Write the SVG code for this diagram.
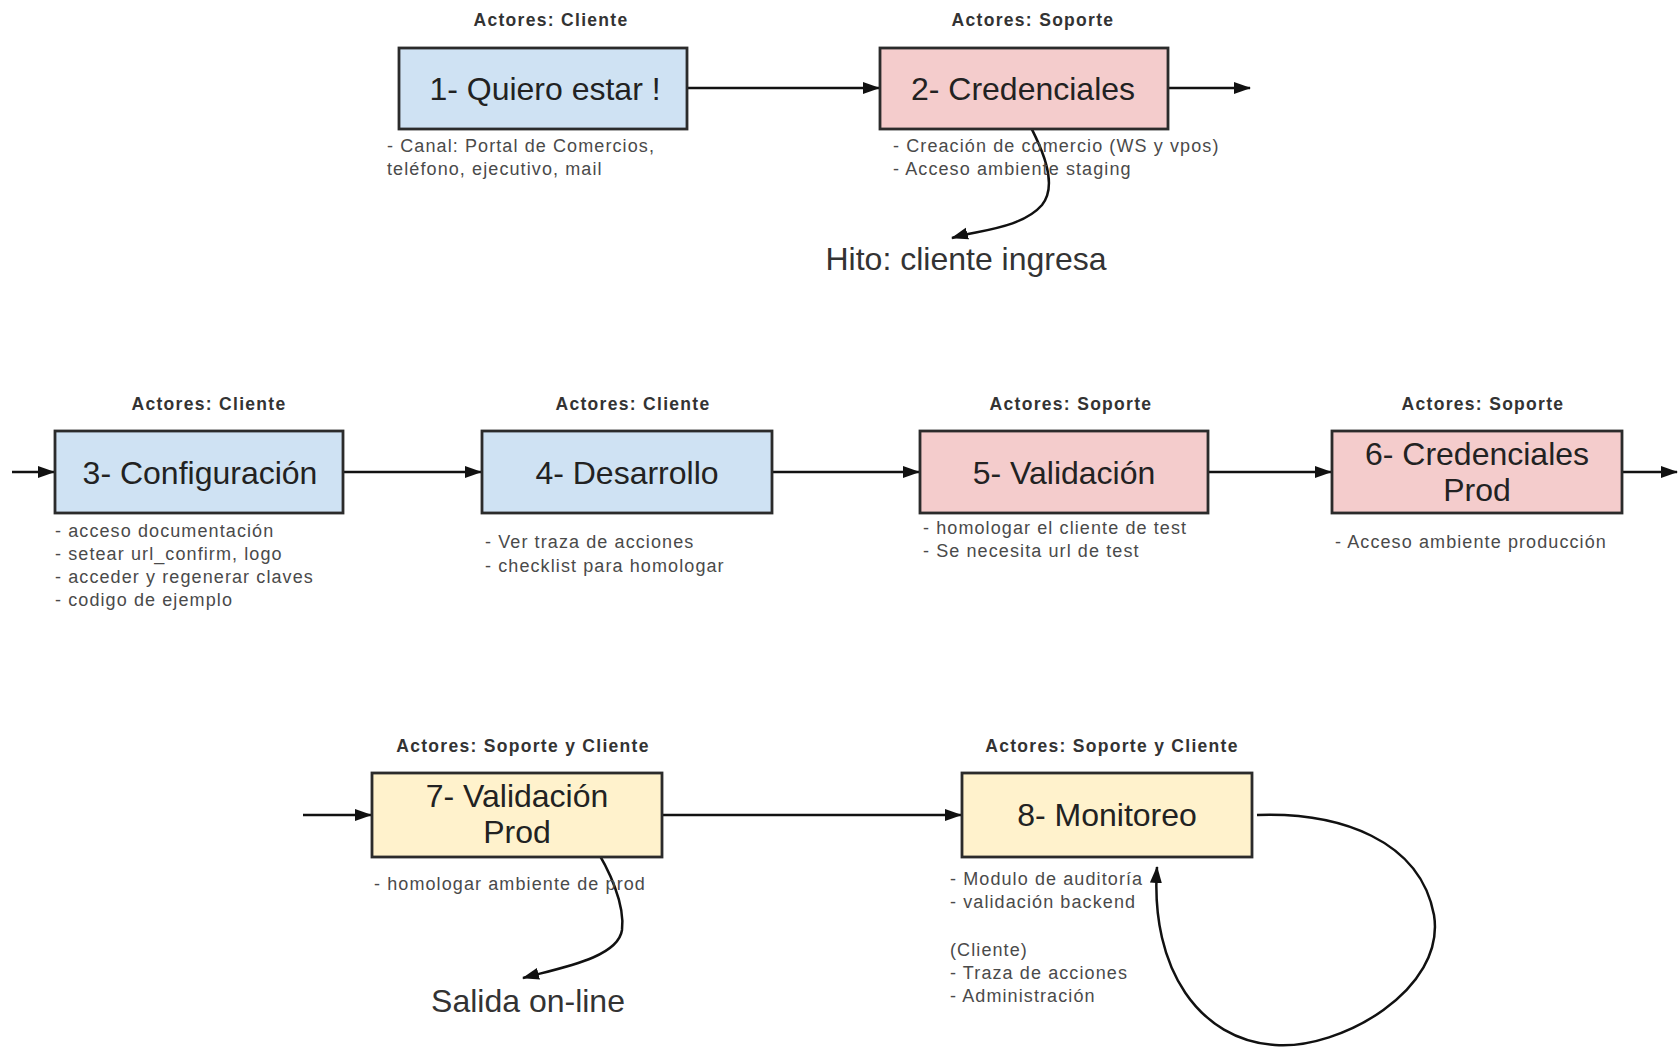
<svg xmlns="http://www.w3.org/2000/svg" width="1678" height="1052" viewBox="0 0 1678 1052">
  <style>
    text { font-family: "Liberation Sans", Arial, sans-serif; }
    .box { stroke: #2b2b2b; stroke-width: 2.8; }
    .cli { fill: #cfe2f3; }
    .sop { fill: #f4cccc; }
    .mix { fill: #fff2cc; }
    .actor { font-size: 17.5px; font-weight: bold; fill: #333; text-anchor: middle; letter-spacing: 1.3px; }
    .title { font-size: 32px; fill: #222; text-anchor: middle; }
    .note { font-size: 18px; fill: #4a4a4a; letter-spacing: 1.1px; }
    .mile { font-size: 32px; fill: #333; text-anchor: middle; }
    .conn { fill: none; stroke: #111; stroke-width: 2.5; }
  </style>
  <defs>
    <marker id="arrow" markerUnits="userSpaceOnUse" markerWidth="18" markerHeight="14" refX="16" refY="7" orient="auto">
      <path d="M0,1 L17,7 L0,13 Z" fill="#111"/>
    </marker>
  </defs>
  <rect width="1678" height="1052" fill="#fff"/>

  <!-- connectors -->
  <g id="connectors">
    <line class="conn" x1="687" y1="88" x2="879" y2="88" marker-end="url(#arrow)"/>
    <line class="conn" x1="1168" y1="88" x2="1250" y2="88" marker-end="url(#arrow)"/>
    <path class="conn" d="M1018,104 C1045,150 1058,185 1042,205 C1022,228 980,230 952,238" marker-end="url(#arrow)"/>

    <line class="conn" x1="12" y1="472" x2="54" y2="472" marker-end="url(#arrow)"/>
    <line class="conn" x1="343" y1="472" x2="481" y2="472" marker-end="url(#arrow)"/>
    <line class="conn" x1="772" y1="472" x2="919" y2="472" marker-end="url(#arrow)"/>
    <line class="conn" x1="1208" y1="472" x2="1331" y2="472" marker-end="url(#arrow)"/>
    <line class="conn" x1="1622" y1="472" x2="1677" y2="472" marker-end="url(#arrow)"/>

    <line class="conn" x1="303" y1="815" x2="371" y2="815" marker-end="url(#arrow)"/>
    <line class="conn" x1="662" y1="815" x2="961" y2="815" marker-end="url(#arrow)"/>
    <path class="conn" d="M592,843 C610,870 625,905 622,930 C618,958 560,968 523,978" marker-end="url(#arrow)"/>
    <path class="conn" d="M1257,815 C1340,812 1420,840 1434,915 C1446,990 1340,1050 1275,1045 C1200,1040 1150,970 1157,867" marker-end="url(#arrow)"/>
  </g>

  <!-- 1 -->
  <g id="node1">
    <text class="actor" x="551" y="26">Actores: Cliente</text>
    <rect class="box cli" x="399" y="48" width="288" height="81"/>
    <text class="title" x="545" y="100">1- Quiero estar !</text>
    <text class="note" x="387" y="152">- Canal: Portal de Comercios,</text>
    <text class="note" x="387" y="175">teléfono, ejecutivo, mail</text>
  </g>

  <!-- 2 -->
  <g id="node2">
    <text class="actor" x="1033" y="26">Actores: Soporte</text>
    <rect class="box sop" x="880" y="48" width="288" height="81"/>
    <text class="title" x="1023" y="100">2- Credenciales</text>
    <text class="note" x="893" y="152">- Creación de comercio (WS y vpos)</text>
    <text class="note" x="893" y="175">- Acceso ambiente staging</text>
  </g>
  <text class="mile" x="966" y="270">Hito: cliente ingresa</text>

  <!-- 3 -->
  <g id="node3">
    <text class="actor" x="209" y="410">Actores: Cliente</text>
    <rect class="box cli" x="55" y="431" width="288" height="82"/>
    <text class="title" x="200" y="484">3- Configuración</text>
    <text class="note" x="55" y="537">- acceso documentación</text>
    <text class="note" x="55" y="560">- setear url_confirm, logo</text>
    <text class="note" x="55" y="583">- acceder y regenerar claves</text>
    <text class="note" x="55" y="606">- codigo de ejemplo</text>
  </g>

  <!-- 4 -->
  <g id="node4">
    <text class="actor" x="633" y="410">Actores: Cliente</text>
    <rect class="box cli" x="482" y="431" width="290" height="82"/>
    <text class="title" x="627" y="484">4- Desarrollo</text>
    <text class="note" x="485" y="548">- Ver traza de acciones</text>
    <text class="note" x="485" y="572">- checklist para homologar</text>
  </g>

  <!-- 5 -->
  <g id="node5">
    <text class="actor" x="1071" y="410">Actores: Soporte</text>
    <rect class="box sop" x="920" y="431" width="288" height="82"/>
    <text class="title" x="1064" y="484">5- Validación</text>
    <text class="note" x="923" y="534">- homologar el cliente de test</text>
    <text class="note" x="923" y="557">- Se necesita url de test</text>
  </g>

  <!-- 6 -->
  <g id="node6">
    <text class="actor" x="1483" y="410">Actores: Soporte</text>
    <rect class="box sop" x="1332" y="431" width="290" height="82"/>
    <text class="title" x="1477" y="465">6- Credenciales</text>
    <text class="title" x="1477" y="501">Prod</text>
    <text class="note" x="1335" y="548">- Acceso ambiente producción</text>
  </g>

  <!-- 7 -->
  <g id="node7">
    <text class="actor" x="523" y="752">Actores: Soporte y Cliente</text>
    <rect class="box mix" x="372" y="773" width="290" height="84"/>
    <text class="title" x="517" y="807">7- Validación</text>
    <text class="title" x="517" y="843">Prod</text>
    <text class="note" x="374" y="890">- homologar ambiente de prod</text>
  </g>
  <text class="mile" x="528" y="1012">Salida on-line</text>

  <!-- 8 -->
  <g id="node8">
    <text class="actor" x="1112" y="752">Actores: Soporte y Cliente</text>
    <rect class="box mix" x="962" y="773" width="290" height="84"/>
    <text class="title" x="1107" y="826">8- Monitoreo</text>
    <text class="note" x="950" y="885">- Modulo de auditoría</text>
    <text class="note" x="950" y="908">- validación backend</text>
    <text class="note" x="950" y="956">(Cliente)</text>
    <text class="note" x="950" y="979">- Traza de acciones</text>
    <text class="note" x="950" y="1002">- Administración</text>
  </g>
</svg>
